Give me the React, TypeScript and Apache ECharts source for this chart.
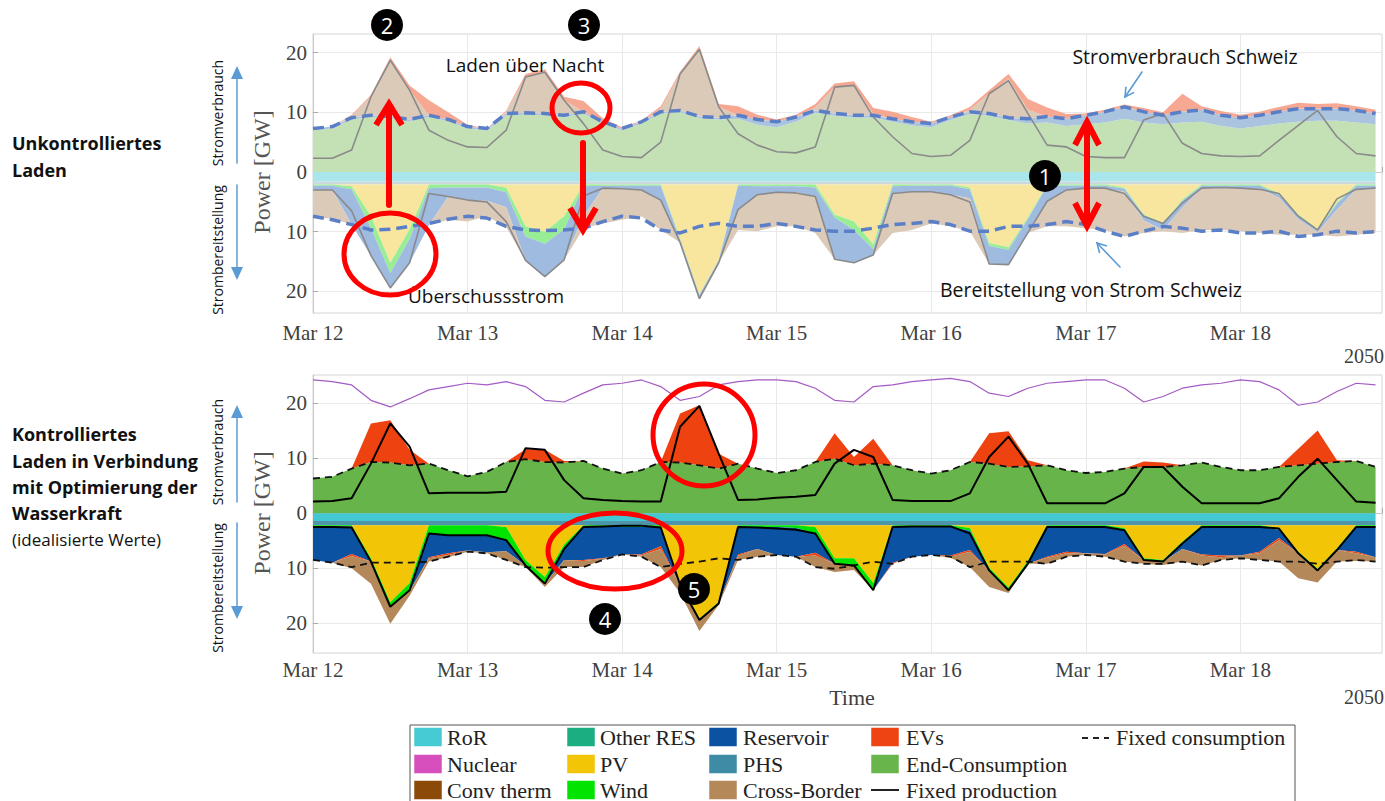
import React, { useEffect, useRef } from "react";
import * as echarts from "echarts";

// hours since Mar 12 00:00 (3-hour steps)
const HOURS = [
  0, 3, 6, 9, 12, 15, 18, 21,
  24, 27, 30, 33, 36, 39, 42, 45,
  48, 51, 54, 57, 60, 63, 66, 69,
  72, 75, 78, 81, 84, 87, 90, 93,
  96, 99, 102, 105, 108, 111, 114, 117,
  120, 123, 126, 129, 132, 135, 138, 141,
  144, 147, 150, 153, 156, 159, 162, 165,
];
const DAY_LABELS = ["Mar 12", "Mar 13", "Mar 14", "Mar 15", "Mar 16", "Mar 17", "Mar 18"];
const Y_TICKS = [-20, -10, 0, 10, 20];

// ---------- Panel 1: Unkontrolliertes Laden (GW) ----------
const uCons = [
  7.3, 7.6, 9.1, 9.5, 9.3, 8.8, 9.5, 8.8,
  7.6, 7.3, 9.8, 9.9, 9.8, 9.5, 10.1, 8.4,
  7.3, 8.4, 10.1, 10.3, 9.3, 9.1, 9.5, 8.8,
  8.4, 9.2, 10.3, 9.8, 9.5, 9.5, 8.9, 8.4,
  8.1, 9.2, 10.1, 9.8, 9.1, 8.9, 9.3, 8.9,
  9.5, 10.1, 10.9, 10.1, 9.5, 10.1, 10.4, 9.5,
  9.1, 9.5, 10.1, 10.6, 10.6, 10.6, 10.3, 9.8,
];
const uPhsPump = [
  0.3, 0.3, 0.3, 0.3, 0.3, 0.3, 0.3, 0.3,
  0.3, 0.3, 0.3, 0.3, 0.3, 0.3, 0.3, 0.3,
  0.3, 0.3, 0.3, 0.3, 0.3, 0.3, 0.6, 0.9,
  0.9, 0.8, 0.4, 0.4, 0.4, 0.4, 0.5, 0.6,
  0.6, 0.5, 0.4, 0.4, 0.4, 0.8, 1.0, 1.2,
  1.5, 1.8, 2.0, 1.8, 1.5, 1.8, 2.0, 1.8,
  1.8, 1.8, 2.0, 2.2, 2.0, 2.0, 2.0, 1.8,
];
const uExport = [
  0, 0, 0.3, 3.1, 9.4, 4.9, 0, 0,
  0, 0, 0.3, 6.0, 6.9, 2.5, 0, 0,
  0, 0, 0.5, 6.1, 11.2, 1.8, 0, 0,
  0, 0, 0.5, 4.4, 5.0, 0.2, 0, 0,
  0, 0, 0.3, 3.3, 6.5, 1.5, 0, 0,
  0, 0, 0, 0, 0, 0, 0, 0,
  0, 0, 0, 0, 0, 0, 0, 0,
];
const uEv = [
  0, 0, 0.2, 0.3, 0.5, 0.8, 2.5, 1.2,
  0.3, 0, 0.2, 0.5, 0.5, 0.6, 1.8, 0.6,
  0.2, 0.2, 0.4, 0.4, 0.6, 0.5, 1.5, 0.8,
  0.4, 0.4, 0.6, 0.6, 0.7, 1.0, 1.2, 0.8,
  0.3, 0.3, 0.5, 0.6, 0.8, 1.8, 1.5, 0.8,
  0.3, 0.3, 0.4, 0.6, 0.5, 3.0, 0.6, 0.7,
  0.5, 0.6, 0.8, 1.0, 0.8, 0.9, 0.7, 0.6,
];
const uFixProd = [
  2.3, 2.3, 3.7, 12.6, 18.7, 13.7, 7.0, 5.3,
  4.2, 4.1, 7.0, 15.9, 16.7, 12.0, 8.1, 3.7,
  2.6, 2.4, 5.0, 16.4, 20.5, 10.9, 6.4, 4.5,
  3.4, 3.2, 4.2, 14.2, 14.5, 9.2, 5.9, 3.1,
  2.6, 2.8, 5.3, 13.1, 15.3, 9.8, 4.5, 4.2,
  2.6, 2.4, 2.4, 8.7, 9.8, 4.8, 3.1, 2.7,
  2.6, 2.7, 5.3, 7.8, 10.3, 5.9, 3.1, 2.7,
];
// production side (magnitudes, drawn below zero)
const uRoR = [
  1.6, 1.6, 1.6, 1.6, 1.6, 1.6, 1.6, 1.6,
  1.6, 1.6, 1.6, 1.6, 1.6, 1.6, 1.6, 1.6,
  1.6, 1.6, 1.6, 1.6, 1.6, 1.6, 1.6, 1.6,
  1.6, 1.6, 1.6, 1.6, 1.6, 1.6, 1.6, 1.6,
  1.6, 1.6, 1.6, 1.6, 1.6, 1.6, 1.6, 1.6,
  1.6, 1.6, 1.6, 1.6, 1.6, 1.6, 1.6, 1.6,
  1.6, 1.6, 1.6, 1.6, 1.6, 1.6, 1.6, 1.6,
];
const uPhsGen = [
  0.5, 0.5, 0.5, 0.5, 0.5, 0.5, 0.5, 0.5,
  0.5, 0.5, 0.5, 0.5, 0.5, 0.5, 0.5, 0.5,
  0.5, 0.5, 0.5, 0.5, 0.5, 0.5, 0.5, 0.5,
  0.5, 0.5, 0.5, 0.5, 0.5, 0.5, 0.5, 0.5,
  0.5, 0.5, 0.5, 0.5, 0.5, 0.5, 0.5, 0.5,
  0.5, 0.5, 0.5, 0.5, 0.5, 0.5, 0.5, 0.5,
  0.5, 0.5, 0.5, 0.5, 0.5, 0.5, 0.5, 0.5,
];
const uPV = [
  0, 0, 0.3, 5.3, 13.1, 7.5, 0, 0,
  0, 0, 0.5, 7.0, 7.9, 5.3, 0, 0,
  0, 0, 0, 9.0, 18.4, 12.6, 0, 0,
  0, 0, 0, 5.0, 6.2, 10.0, 0, 0,
  0, 0, 0.5, 9.8, 10.5, 5.5, 0, 0,
  0, 0, 0.5, 5.0, 6.4, 2.5, 0, 0,
  0, 0, 1.5, 5.0, 7.5, 3.0, 0, 0,
];
const uWind = [
  0.2, 0.2, 0.5, 2.0, 1.7, 1.6, 0.6, 0.5,
  0.5, 0.5, 0.8, 1.7, 2.0, 2.2, 0.3, 0.2,
  0.2, 0.2, 0.2, 0.2, 0.1, 0.1, 0.2, 0.3,
  0.3, 0.3, 0.5, 0.5, 1.4, 0.8, 0.3, 0.2,
  0.2, 0.2, 0.3, 0.5, 0.4, 0.3, 0.2, 0.2,
  0.2, 0.2, 0.2, 0.2, 0.2, 0.2, 0.2, 0.2,
  0.2, 0.2, 0.2, 0.2, 0.2, 0.2, 0.2, 0.2,
];
const uRes = [
  0.7, 0.7, 5.9, 4.6, 2.5, 4.0, 6.2, 1.5,
  2.1, 2.2, 2.5, 4.0, 5.5, 5.1, 5.0, 0.4,
  0.6, 0.7, 2.4, 0.5, 0.6, 0.4, 4.0, 1.4,
  1.0, 1.0, 1.5, 7.0, 5.5, 1.0, 1.2, 1.0,
  1.0, 1.5, 1.5, 3.0, 2.5, 2.3, 2.6, 0.7,
  0.4, 0.4, 0.5, 0.8, 1.0, 1.2, 0.4, 0.4,
  0.4, 0.5, 0.5, 0.6, 0.3, 1.0, 0.6, 0.6,
];
const uImport = [
  4.7, 4.8, 0, 0, 0, 0, 0, 3.9,
  3.6, 2.6, 3.3, 0, 0, 0, 2.0, 5.9,
  5.1, 4.4, 5.0, 0, 0, 0, 3.4, 6.1,
  5.7, 5.7, 6.1, 0, 0, 0, 6.6, 6.4,
  5.3, 5.3, 5.5, 0, 0, 0, 4.2, 6.1,
  6.7, 7.0, 7.5, 2.1, 0.2, 4.2, 7.0, 7.0,
  7.2, 7.4, 6.2, 2.6, 0.4, 4.5, 7.6, 7.3,
];
const uConsNeg = [
  7.4, 8.0, 8.8, 9.7, 9.6, 9.1, 8.6, 7.9,
  7.4, 7.7, 9.1, 9.7, 9.8, 9.7, 9.4, 8.3,
  7.4, 7.7, 9.7, 10.2, 9.1, 8.6, 9.1, 9.1,
  8.6, 9.1, 9.7, 9.9, 9.9, 9.4, 8.8, 8.6,
  8.3, 8.8, 9.9, 9.9, 9.1, 9.1, 8.8, 8.3,
  8.8, 9.9, 10.8, 9.9, 9.1, 9.4, 9.9, 9.7,
  10.2, 10.2, 9.9, 10.8, 10.5, 9.9, 10.2, 10.0,
];
const uFixNeg = [
  3.0, 3.0, 6.5, 14.0, 19.4, 15.2, 3.6, 4.1,
  4.7, 5.0, 8.3, 14.8, 17.5, 14.7, 4.0, 2.7,
  2.8, 3.0, 4.7, 11.8, 21.2, 15.2, 6.3, 3.8,
  3.4, 3.5, 4.1, 14.6, 15.2, 13.9, 3.6, 3.3,
  3.3, 3.8, 5.0, 15.4, 15.5, 10.2, 4.9, 3.0,
  2.7, 2.7, 3.6, 7.4, 8.6, 5.2, 2.7, 2.6,
  2.7, 2.9, 3.6, 7.4, 9.7, 4.5, 2.9, 2.7,
];

// ---------- Panel 2: Kontrolliertes Laden (GW) ----------
const cCons = [
  6.3, 6.6, 8.1, 9.3, 9.2, 8.7, 9.0, 7.8,
  6.7, 7.5, 9.3, 9.8, 9.3, 9.2, 9.5, 8.1,
  7.2, 7.8, 9.3, 9.2, 8.7, 8.1, 9.0, 8.1,
  7.3, 7.8, 9.3, 9.9, 8.7, 9.0, 8.7, 7.8,
  7.2, 7.8, 9.3, 9.0, 8.4, 8.5, 8.7, 7.8,
  7.3, 7.5, 8.1, 8.4, 8.4, 8.7, 9.2, 8.4,
  7.8, 7.8, 8.4, 8.7, 9.0, 9.3, 9.5, 8.4,
];
const cEv = [
  0, 0, 0, 7.0, 7.7, 2.8, 0, 0,
  0, 0, 0, 1.8, 2.2, 0.3, 0, 0,
  0, 0, 0, 8.9, 10.9, 2.7, 0, 0,
  0, 0, 0, 4.6, 1.5, 4.5, 0, 0,
  0, 0, 0, 5.5, 6.5, 1.1, 0, 0,
  0, 0, 0, 1.0, 0.8, 0, 0, 0,
  0, 0, 0, 3.0, 6.0, 0.3, 0, 0,
];
const cFixProd = [
  2.1, 2.2, 2.7, 9.0, 16.3, 12.1, 3.6, 3.7,
  3.7, 3.7, 3.9, 11.8, 11.5, 6.0, 2.7, 2.4,
  2.2, 2.1, 2.1, 15.7, 19.5, 10.8, 2.4, 2.5,
  2.8, 3.0, 3.3, 9.0, 11.5, 10.2, 2.4, 2.2,
  2.2, 2.2, 3.6, 10.2, 13.9, 9.0, 1.8, 1.8,
  1.8, 1.8, 3.6, 8.4, 8.4, 4.8, 1.8, 1.8,
  1.8, 1.8, 2.7, 6.6, 9.9, 6.0, 2.1, 1.9,
];
const cPurple = [
  24.2, 23.9, 23.3, 20.5, 19.3, 20.8, 22.4, 23.0,
  23.6, 23.3, 23.9, 23.0, 20.5, 20.2, 21.8, 23.3,
  23.6, 24.2, 23.0, 20.5, 21.2, 23.3, 23.9, 24.2,
  24.2, 23.9, 22.7, 20.5, 20.2, 23.0, 23.3, 23.9,
  24.2, 24.5, 23.9, 21.8, 21.2, 22.7, 23.6, 23.9,
  24.2, 24.2, 22.7, 20.2, 21.2, 22.7, 23.3, 23.6,
  24.2, 23.9, 22.4, 19.6, 20.2, 22.1, 23.6, 23.3,
];
const cRoR = [
  1.4, 1.4, 1.4, 1.4, 1.4, 1.4, 1.4, 1.4,
  1.4, 1.4, 1.4, 1.4, 1.4, 1.4, 1.4, 1.4,
  1.4, 1.4, 1.4, 1.4, 1.4, 1.4, 1.4, 1.4,
  1.4, 1.4, 1.4, 1.4, 1.4, 1.4, 1.4, 1.4,
  1.4, 1.4, 1.4, 1.4, 1.4, 1.4, 1.4, 1.4,
  1.4, 1.4, 1.4, 1.4, 1.4, 1.4, 1.4, 1.4,
  1.4, 1.4, 1.4, 1.4, 1.4, 1.4, 1.4, 1.4,
];
const cPhs = [
  0.8, 0.8, 0.8, 0.8, 0.8, 0.8, 0.8, 0.8,
  0.8, 0.8, 0.8, 0.8, 0.8, 0.8, 0.8, 0.8,
  0.8, 0.8, 0.8, 0.8, 0.8, 0.8, 0.8, 0.8,
  0.8, 0.8, 0.8, 0.8, 0.8, 0.8, 0.8, 0.8,
  0.8, 0.8, 0.8, 0.8, 0.8, 0.8, 0.8, 0.8,
  0.8, 0.8, 0.8, 0.8, 0.8, 0.8, 0.8, 0.8,
  0.8, 0.8, 0.8, 0.8, 0.8, 0.8, 0.8, 0.8,
];
const cPV = [
  0, 0, 0, 6.0, 14.0, 10.5, 0, 0,
  0, 0, 0.3, 6.3, 9.4, 3.5, 0, 0,
  0, 0, 0, 10.6, 17.0, 14.0, 0, 0,
  0, 0, 0.3, 6.0, 6.0, 10.5, 0, 0,
  0, 0, 0.5, 7.7, 11.3, 6.5, 0, 0,
  0, 0, 0.5, 6.0, 6.3, 3.0, 0, 0,
  0, 0, 0.5, 4.8, 7.9, 4.2, 0, 0,
];
const cWind = [
  0.2, 0.2, 0.2, 0.6, 1.0, 1.5, 1.5, 1.8,
  1.8, 1.8, 2.4, 1.0, 1.2, 0.8, 0.3, 0.3,
  0.3, 0.3, 0.3, 0.2, 0.2, 0.2, 0.3, 0.3,
  0.3, 0.5, 1.2, 1.0, 1.3, 1.3, 0.3, 0.3,
  0.3, 0.3, 0.5, 0.5, 0.5, 0.5, 0.3, 0.3,
  0.3, 0.3, 0.4, 0.3, 0.3, 0.3, 0.3, 0.3,
  0.3, 0.3, 0.3, 0.3, 0.3, 0.3, 0.3, 0.3,
];
const cRes = [
  6.1, 6.6, 5.0, 0, 0, 0, 4.3, 3.3,
  2.8, 3.1, 2.0, 0, 0, 2.0, 6.0, 5.7,
  5.0, 5.0, 3.5, 0, 0, 0, 5.0, 4.0,
  5.1, 5.2, 3.5, 0, 0, 0, 6.5, 5.4,
  5.1, 5.2, 3.5, 0, 0, 0, 5.4, 4.5,
  4.8, 4.9, 2.5, 0, 0, 1.0, 5.0, 5.2,
  5.2, 4.5, 1.5, 0, 0, 0, 4.5, 5.5,
];
const cEvNeg = [
  0, 0, 0.4, 0, 0, 0, 0.2, 0.3,
  0, 0, 0, 0, 0, 0, 0.2, 0.1,
  0, 0.2, 0.5, 0, 0, 0, 0.3, 0,
  0, 0, 0.5, 0, 0, 0, 0.2, 0,
  0, 0.2, 0.3, 0, 0, 0, 0.2, 0.3,
  0, 0.1, 0.3, 0, 0, 0, 0.2, 0.3,
  0, 0.3, 0.4, 0, 0, 0, 0.3, 0,
];
const cImport = [
  0, 0, 2.2, 4.0, 2.9, 0.8, 0.6, 0.4,
  0.2, 0.2, 1.6, 0.3, 0.6, 1.3, 1.1, 0.2,
  0, 0.2, 3.3, 1.5, 2.0, 0.3, 0.7, 1.4,
  0, 0, 2.1, 1.5, 0.8, 0, 0, 0,
  0, 0.2, 2.8, 3.0, 0.5, 0, 1.1, 0.6,
  0.3, 0.4, 2.9, 0.7, 0.6, 2.3, 1.8, 0.5,
  0.5, 1.2, 3.9, 4.5, 2.2, 2.1, 1.4, 0.8,
];
const cConsNeg = [
  8.5, 9.0, 9.8, 9.0, 9.0, 9.0, 8.8, 7.9,
  7.0, 7.3, 8.5, 9.8, 9.9, 9.8, 9.8, 8.5,
  7.5, 7.9, 9.8, 9.2, 8.8, 8.2, 8.5, 7.9,
  7.6, 7.9, 9.8, 10.1, 9.5, 8.8, 9.2, 7.9,
  7.6, 7.9, 9.8, 8.8, 8.8, 8.8, 9.2, 7.9,
  7.6, 7.9, 8.8, 9.2, 9.2, 8.8, 9.5, 8.5,
  8.2, 8.5, 8.8, 8.8, 9.2, 8.8, 8.5, 8.8,
];
const cFixNeg = [
  2.5, 2.5, 2.6, 8.8, 17.0, 14.0, 3.7, 4.0,
  4.0, 4.0, 4.9, 9.5, 12.8, 6.5, 2.5, 2.4,
  2.3, 2.3, 2.6, 13.0, 19.4, 16.4, 2.5, 2.6,
  2.8, 3.0, 3.7, 9.2, 9.5, 14.0, 2.5, 2.4,
  2.4, 2.4, 3.7, 10.4, 14.0, 9.2, 2.5, 2.5,
  2.5, 2.5, 3.1, 8.5, 8.8, 5.5, 2.5, 2.5,
  2.5, 2.5, 2.8, 7.3, 10.4, 6.7, 2.5, 2.5,
];

// legend entries
const LEGEND_ITEMS = [
  { name: "RoR", color: "#46cad4", col: 0, row: 0 },
  { name: "Nuclear", color: "#d64fbd", col: 0, row: 1 },
  { name: "Conv therm", color: "#8c4a08", col: 0, row: 2 },
  { name: "Other RES", color: "#1bae80", col: 1, row: 0 },
  { name: "PV", color: "#f2c507", col: 1, row: 1 },
  { name: "Wind", color: "#00e400", col: 1, row: 2 },
  { name: "Reservoir", color: "#0b52a3", col: 2, row: 0 },
  { name: "PHS", color: "#3e8ba6", col: 2, row: 1 },
  { name: "Cross-Border", color: "#b5885a", col: 2, row: 2 },
  { name: "EVs", color: "#ee4312", col: 3, row: 0 },
  { name: "End-Consumption", color: "#68b64b", col: 3, row: 1 },
];

const SERIF = "'Liberation Serif', 'Times New Roman', serif";
const SANS = "'Open Sans', 'Noto Sans', sans-serif";

// value first, time second (encode maps them), so that stacking acts on the value dimension
function pts(vals: number[], sign: number) {
  return HOURS.map((t, i) => [sign * vals[i], t]);
}

function area(name: string, vals: number[], color: string, gi: number, stack: string, sign: number) {
  return {
    name,
    type: "line",
    xAxisIndex: gi,
    yAxisIndex: gi,
    stack,
    encode: { x: 1, y: 0 },
    symbol: "none",
    silent: true,
    lineStyle: { width: 0 },
    areaStyle: { color, opacity: 1 },
    data: pts(vals, sign),
    z: 2,
  };
}

function line(name: string, vals: number[], color: string, width: number, dash: any, gi: number, sign: number) {
  return {
    name,
    type: "line",
    xAxisIndex: gi,
    yAxisIndex: gi,
    encode: { x: 1, y: 0 },
    symbol: "none",
    silent: true,
    lineStyle: { color, width, type: dash },
    data: pts(vals, sign),
    z: 4,
  };
}

function txt(x: number, y: number, text: string, opts: any = {}) {
  return {
    type: "text",
    x,
    y,
    z: 60,
    rotation: opts.rotation || 0,
    style: {
      text,
      fill: opts.fill || "#111",
      fontSize: opts.size || 16,
      fontFamily: opts.family || SANS,
      fontWeight: opts.weight || "normal",
      align: opts.align || "left",
      verticalAlign: "middle",
    },
  };
}

function seg(x1: number, y1: number, x2: number, y2: number, stroke: string, w: number) {
  return { type: "line", z: 60, shape: { x1, y1, x2, y2 }, style: { stroke, lineWidth: w, lineCap: "round" } };
}

function chevron(tipX: number, tipY: number, fromX: number, fromY: number, len: number, half: number, stroke: string, w: number) {
  const dx = tipX - fromX;
  const dy = tipY - fromY;
  const L = Math.sqrt(dx * dx + dy * dy);
  const ux = dx / L;
  const uy = dy / L;
  const bx = tipX - ux * len;
  const by = tipY - uy * len;
  return {
    type: "polyline",
    z: 61,
    shape: { points: [[bx - uy * half, by + ux * half], [tipX, tipY], [bx + uy * half, by - ux * half]] },
    style: { stroke, lineWidth: w, fill: null, lineJoin: "miter" },
  };
}

function tri(tipX: number, tipY: number, dir: number, color: string) {
  return {
    type: "polygon",
    z: 61,
    shape: { points: [[tipX, tipY], [tipX - 6, tipY - dir * 13], [tipX + 6, tipY - dir * 13]] },
    style: { fill: color },
  };
}

function badge(x: number, y: number, n: string) {
  return [
    { type: "circle", z: 62, shape: { cx: x, cy: y, r: 16 }, style: { fill: "#000" } },
    { type: "text", x, y, z: 63, style: { text: n, fill: "#fff", fontSize: 22, fontFamily: SANS, align: "center", verticalAlign: "middle" } },
  ];
}

function ring(cx: number, cy: number, rx: number, ry: number) {
  return { type: "ellipse", z: 62, shape: { cx, cy, rx, ry }, style: { fill: "transparent", stroke: "#ff0000", lineWidth: 5 } };
}

function buildOption() {
  const uEndCons = uCons.map((v, i) => v - uPhsPump[i]);

  const xAxisBase = (gi: number, margin: number) => ({
    gridIndex: gi,
    type: "value",
    min: 0,
    max: 166,
    interval: 24,
    axisLabel: {
      formatter: (v: number) => (v % 24 === 0 && v / 24 < DAY_LABELS.length ? DAY_LABELS[v / 24] : ""),
      fontFamily: SERIF,
      fontSize: 21,
      color: "#404040",
      margin,
    },
    splitLine: { show: true, lineStyle: { color: "#e9e9e9", width: 1 } },
    axisLine: { show: true, lineStyle: { color: "#c9c9c9" } },
    axisTick: { show: true, inside: true, length: 5, lineStyle: { color: "#aaa" } },
  });
  const yAxisBase = (gi: number, min: number, max: number) => ({
    gridIndex: gi,
    type: "value",
    min,
    max,
    splitNumber: 5,
    axisLabel: {
      formatter: (v: number) => (Y_TICKS.indexOf(Math.round(v * 100) / 100) >= 0 ? String(Math.abs(v)) : ""),
      showMinLabel: false,
      showMaxLabel: false,
      fontFamily: SERIF,
      fontSize: 21,
      color: "#404040",
      margin: 6,
    },
    splitLine: { show: true, lineStyle: { color: "#e9e9e9", width: 1 } },
    axisLine: { show: true, lineStyle: { color: "#c9c9c9" } },
    axisTick: { show: true, inside: true, length: 5, lineStyle: { color: "#aaa" } },
  });

  const series: any[] = [
    // panel 1 consumption
    area("End-Consumption", uEndCons, "#c4e1b6", 0, "up", 1),
    area("PHS", uPhsPump, "#aac4df", 0, "up", 1),
    area("Cross-Border", uExport, "#dccab9", 0, "up", 1),
    area("EVs", uEv, "#f6a893", 0, "up", 1),
    // panel 1 production
    area("RoR", uRoR, "#a9e6ec", 0, "un", -1),
    area("PHS", uPhsGen, "#c9d9de", 0, "un", -1),
    area("PV", uPV, "#f8e59e", 0, "un", -1),
    area("Wind", uWind, "#99ee95", 0, "un", -1),
    area("Reservoir", uRes, "#9fbbe0", 0, "un", -1),
    area("Cross-Border", uImport, "#dccab9", 0, "un", -1),
    line("Fixed production", uFixProd, "#8a8a8a", 1.6, "solid", 0, 1),
    line("Fixed production", uFixNeg, "#8a8a8a", 1.6, "solid", 0, -1),
    line("Fixed consumption", uCons, "#5b7fc6", 3.5, [11, 6], 0, 1),
    line("Fixed consumption", uConsNeg, "#5b7fc6", 3.5, [11, 6], 0, -1),
    // panel 2 consumption
    area("End-Consumption", cCons, "#66b44a", 1, "cp", 1),
    area("EVs", cEv, "#ee4310", 1, "cp", 1),
    // panel 2 production
    area("RoR", cRoR, "#43c7d2", 1, "cn", -1),
    area("PHS", cPhs, "#4e95a9", 1, "cn", -1),
    area("PV", cPV, "#f2c507", 1, "cn", -1),
    area("Wind", cWind, "#00e400", 1, "cn", -1),
    area("Reservoir", cRes, "#0b52a3", 1, "cn", -1),
    area("EVs", cEvNeg, "#ee4310", 1, "cn", -1),
    area("Cross-Border", cImport, "#b5885a", 1, "cn", -1),
    line("Fixed consumption", cCons, "#111", 1.8, [7, 5], 1, 1),
    line("Fixed consumption", cConsNeg, "#111", 1.8, [7, 5], 1, -1),
    line("Fixed production", cFixProd, "#000", 2, "solid", 1, 1),
    line("Fixed production", cFixNeg, "#000", 2, "solid", 1, -1),
    line("Limit", cPurple, "#a45bc4", 1.2, "solid", 1, 1),
  ];

  const g: any[] = [];
  // left headings
  g.push(txt(12, 143, "Unkontrolliertes", { weight: "bold", size: 18 }));
  g.push(txt(12, 170, "Laden", { weight: "bold", size: 18 }));
  g.push(txt(12, 434, "Kontrolliertes", { weight: "bold", size: 18 }));
  g.push(txt(12, 461, "Laden in Verbindung", { weight: "bold", size: 18 }));
  g.push(txt(12, 487, "mit Optimierung der", { weight: "bold", size: 18 }));
  g.push(txt(12, 513, "Wasserkraft", { weight: "bold", size: 18 }));
  g.push(txt(12, 539, "(idealisierte Werte)", { size: 17 }));
  // rotated side labels
  const rot = Math.PI / 2;
  g.push(txt(217, 113, "Stromverbrauch", { rotation: rot, align: "center", size: 14 }));
  g.push(txt(217, 250, "Strombereitstellung", { rotation: rot, align: "center", size: 14 }));
  g.push(txt(217, 452, "Stromverbrauch", { rotation: rot, align: "center", size: 14 }));
  g.push(txt(217, 588, "Strombereitstellung", { rotation: rot, align: "center", size: 14 }));
  const blue = "#5b9bd5";
  g.push(seg(237, 163, 237, 78, blue, 1.5), tri(237, 66, -1, blue));
  g.push(seg(237, 185, 237, 268, blue, 1.5), tri(237, 280, 1, blue));
  g.push(seg(237, 502, 237, 417, blue, 1.5), tri(237, 405, -1, blue));
  g.push(seg(237, 523, 237, 607, blue, 1.5), tri(237, 619, 1, blue));
  // y-axis names
  g.push(txt(262, 172, "Power [GW]", { rotation: rot, align: "center", size: 24, family: SERIF, fill: "#555" }));
  g.push(txt(262, 513, "Power [GW]", { rotation: rot, align: "center", size: 24, family: SERIF, fill: "#555" }));
  // year & time
  g.push(txt(1384, 356, "2050", { align: "right", size: 20, family: SERIF, fill: "#404040" }));
  g.push(txt(1384, 697, "2050", { align: "right", size: 20, family: SERIF, fill: "#404040" }));
  g.push(txt(852, 697, "Time", { align: "center", size: 22, family: SERIF, fill: "#404040" }));

  // annotations, panel 1
  g.push(txt(525, 65, "Laden über Nacht", { align: "center", size: 19 }));
  g.push(txt(486, 296, "Überschussstrom", { align: "center", size: 19 }));
  g.push(txt(1185, 56, "Stromverbrauch Schweiz", { align: "center", size: 19.5 }));
  g.push(txt(1091, 289, "Bereitstellung von Strom Schweiz", { align: "center", size: 19.5 }));
  g.push(seg(1142, 72, 1125, 97, blue, 1.6), chevron(1125, 97, 1142, 72, 9, 5, blue, 1.6));
  g.push(seg(1120, 267, 1097, 243, blue, 1.6), chevron(1097, 243, 1120, 267, 9, 5, blue, 1.6));
  g.push(ring(390, 254, 46, 41));
  g.push(ring(581, 108, 29, 25));
  const red = "#ff0000";
  g.push(seg(389, 205, 389, 106, red, 6), chevron(389, 104, 389, 205, 21, 13, red, 6));
  g.push(seg(583, 143, 583, 228, red, 6), chevron(583, 230, 583, 143, 22, 13, red, 6));
  g.push(seg(1087, 124, 1087, 224, red, 6));
  g.push(chevron(1087, 122, 1087, 225, 23, 12, red, 6), chevron(1087, 226, 1087, 122, 23, 12, red, 6));
  g.push(...badge(387, 25, "2"), ...badge(584, 25, "3"), ...badge(1045, 176, "1"));
  // annotations, panel 2
  g.push(ring(704, 435, 51, 51));
  g.push(ring(615, 551, 67, 38));
  g.push(...badge(694, 589, "5"), ...badge(605, 619, "4"));

  // legend
  g.push({ type: "rect", z: 50, shape: { x: 410, y: 725, width: 885, height: 82 }, style: { fill: "#fff", stroke: "#555", lineWidth: 1 } });
  const colSw = [414, 567, 709, 871];
  const colTx = [447, 600, 743, 906];
  const rowY = [737, 764, 790];
  LEGEND_ITEMS.forEach((it) => {
    g.push({
      type: "rect",
      z: 55,
      shape: { x: colSw[it.col], y: rowY[it.row] - 9.5, width: 28, height: 19 },
      style: { fill: it.color, stroke: "rgba(255,255,255,0.5)", lineWidth: 1 },
    });
    g.push(txt(colTx[it.col], rowY[it.row], it.name, { size: 22, family: SERIF, fill: "#222" }));
  });
  g.push({ type: "line", z: 55, shape: { x1: 871, y1: 790, x2: 899, y2: 790 }, style: { stroke: "#222", lineWidth: 2 } });
  g.push(txt(906, 790, "Fixed production", { size: 22, family: SERIF, fill: "#222" }));
  g.push({ type: "line", z: 55, shape: { x1: 1082, y1: 738, x2: 1109, y2: 738 }, style: { stroke: "#222", lineWidth: 2, lineDash: [6, 5] } });
  g.push(txt(1116, 737, "Fixed consumption", { size: 22, family: SERIF, fill: "#222" }));

  return {
    animation: false,
    backgroundColor: "#ffffff",
    grid: [
      { left: 313, top: 34, width: 1072, height: 279, show: true, borderColor: "#d4d4d4", borderWidth: 1, backgroundColor: "#fff" },
      { left: 313, top: 375, width: 1072, height: 278, show: true, borderColor: "#d4d4d4", borderWidth: 1, backgroundColor: "#fff" },
    ],
    xAxis: [xAxisBase(0, 9), xAxisBase(1, 6)],
    yAxis: [yAxisBase(0, -23.6, 23.1), yAxisBase(1, -25.4, 25.1)],
    series,
    graphic: { elements: g },
  };
}

export default function App() {
  const ref = useRef<HTMLDivElement>(null);
  useEffect(() => {
    if (!ref.current) return;
    const chart = echarts.init(ref.current, null, { renderer: "svg" });
    chart.setOption(buildOption() as any);
    return () => {
      chart.dispose();
    };
  }, []);
  return (
    <div
      ref={ref}
      style={{ position: "fixed", left: 0, top: 0, width: 1385, height: 801, background: "#fff" }}
    />
  );
}
